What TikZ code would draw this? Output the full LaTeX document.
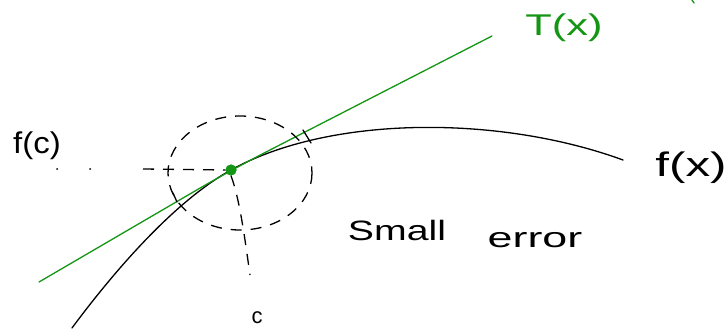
\documentclass[tikz,border=0pt]{standalone}
\usepackage{fontspec}
\setmainfont{Liberation Sans}
\definecolor{pen}{RGB}{20,150,20}
\begin{document}
\begin{tikzpicture}[x=1pt,y=-1pt,
  ink/.style={line width=1.3pt,line cap=round},
  dsh/.style={line width=1.3pt,dash pattern=on 11pt off 9pt},
  lbl/.style={inner sep=0pt,font=\fontsize{28}{28}\selectfont}]
\useasboundingbox[fill=white] (0,0) rectangle (727,331);
% point
\node[circle,fill=pen,inner sep=0pt,minimum width=11pt,minimum height=9pt] (p) at (231,170) {};
% curve f(x)
\draw[ink] (72,328) .. controls (115,270) and (175,201) .. (p.center) .. controls (330,115) and (500,115) .. (623,160);
% tangent T(x)
\draw[ink,pen,rounded corners=40pt] (39,282) -- (p.center) -- (492,36);
\node[circle,fill=pen,inner sep=0pt,minimum width=11pt,minimum height=9pt] at (p) {};
% dashed ellipse
\draw[dsh] (p.center) ++(9,3) ellipse[x radius=72,y radius=57];
% horizontal dashed guide
\coordinate (h0) at (143,169);
\draw[dsh] (h0) -- (p.west);
\fill (57,169) circle (1pt) (90,169) circle (1pt);
% vertical dashed guide
\coordinate (v1) at (250,275);
\draw[dsh] (p.south) .. controls (240,200) and (245,240) .. (v1);
% error ticks
\draw[ink] (303,130) -- (311,143);
\draw[ink] (173,193) -- (177,202);
\draw[ink,pen] (692,0) -- (694,3);
% labels
\node[lbl,font=\fontsize{30}{30}\selectfont,xscale=1.1] (fc) at (37,146) {f(c)};
\node[lbl,font=\fontsize{34}{34}\selectfont,xscale=1.45] (fx) at (691,168) {f(x)};
\node[lbl,pen,font=\fontsize{30}{30}\selectfont,xscale=1.45] (Tx) at (564,28) {T(x)};
\node[lbl,font=\fontsize{22}{22}\selectfont] (c) at (257,318) {c};
\node[lbl,xscale=1.4] (sm) at (397,230) {Small};
\node[lbl,xscale=1.6] (er) at (535,240) {error};
\end{tikzpicture}
\end{document}
